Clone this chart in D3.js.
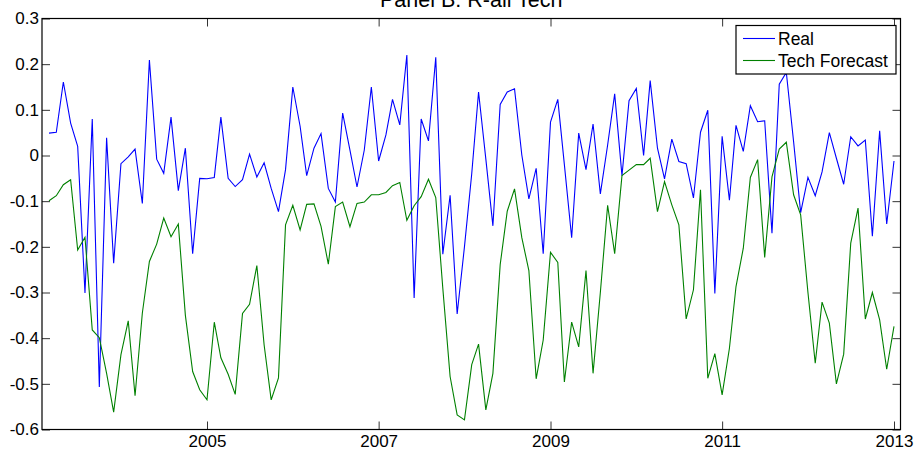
<!DOCTYPE html>
<html>
<head>
<meta charset="utf-8">
<script src="https://cdn.jsdelivr.net/npm/d3@7"></script>
<style>
  html, body { margin: 0; padding: 0; background: #fff; }
  svg { display: block; }
  text { font-family: "Liberation Sans", Arial, sans-serif; fill: #000; }
</style>
</head>
<body>
<svg id="chart" width="915" height="453"></svg>
<script>
// Monthly observations, March 2003 through January 2013
const months = d3.timeMonth.range(new Date(2003, 2, 1), new Date(2013, 1, 1));

const realValues = [
  0.049, 0.051, 0.161, 0.071, 0.020, -0.301, 0.080, -0.507, 0.039, -0.236,
  -0.018, -0.003, 0.014, -0.105, 0.209, -0.008, -0.039, 0.084, -0.077, 0.016,
  -0.215, -0.050, -0.051, -0.048, 0.084, -0.050, -0.068, -0.053, 0.003, -0.047,
  -0.016, -0.072, -0.123, -0.031, 0.150, 0.064, -0.044, 0.016, 0.048, -0.072,
  -0.102, 0.093, 0.012, -0.069, 0.012, 0.150, -0.012, 0.045, 0.123, 0.067,
  0.220, -0.312, 0.080, 0.032, 0.215, -0.216, -0.087, -0.347, -0.200, -0.040,
  0.139, -0.008, -0.154, 0.112, 0.139, 0.146, 0.001, -0.095, -0.028, -0.215,
  0.073, 0.123, -0.020, -0.180, 0.049, -0.031, 0.069, -0.084, 0.023, 0.135,
  -0.044, 0.120, 0.147, 0.000, 0.164, 0.016, -0.051, 0.036, -0.013, -0.018,
  -0.093, 0.051, 0.099, -0.302, 0.042, -0.098, 0.066, 0.009, 0.109, 0.074,
  0.076, -0.170, 0.156, 0.182, 0.030, -0.125, -0.048, -0.088, -0.036, 0.050,
  -0.006, -0.063, 0.041, 0.021, 0.034, -0.177, 0.054, -0.150, -0.012
];

const forecastValues = [
  -0.099, -0.088, -0.064, -0.053, -0.207, -0.179, -0.382, -0.399, -0.477, -0.562,
  -0.436, -0.362, -0.526, -0.345, -0.232, -0.194, -0.137, -0.178, -0.150, -0.350,
  -0.473, -0.513, -0.535, -0.365, -0.443, -0.479, -0.523, -0.346, -0.326, -0.241,
  -0.415, -0.535, -0.487, -0.152, -0.109, -0.163, -0.107, -0.106, -0.155, -0.238,
  -0.112, -0.102, -0.156, -0.105, -0.102, -0.086, -0.086, -0.081, -0.066, -0.059,
  -0.142, -0.110, -0.090, -0.052, -0.092, -0.291, -0.484, -0.568, -0.579, -0.458,
  -0.413, -0.557, -0.477, -0.239, -0.122, -0.073, -0.180, -0.252, -0.489, -0.404,
  -0.212, -0.234, -0.496, -0.365, -0.419, -0.252, -0.477, -0.300, -0.109, -0.215,
  -0.044, -0.032, -0.020, -0.020, -0.006, -0.123, -0.057, -0.108, -0.152, -0.358,
  -0.294, -0.075, -0.488, -0.434, -0.524, -0.422, -0.287, -0.203, -0.048, -0.009,
  -0.223, -0.047, 0.014, 0.029, -0.086, -0.130, -0.300, -0.455, -0.321, -0.367,
  -0.500, -0.435, -0.192, -0.115, -0.358, -0.300, -0.360, -0.468, -0.374
];

const seriesNames = ["Real", "Tech Forecast"];
const seriesColors = ["#0000ff", "#008000"];
const yTickValues = [-0.6, -0.5, -0.4, -0.3, -0.2, -0.1, 0, 0.1, 0.2, 0.3];
const xTickYears = [2005, 2007, 2009, 2011, 2013];
const titleText = "Panel B: R-all Tech";

// Plot box
const plot = { left: 42, right: 900.5, top: 18.5, bottom: 429.5 };

const svg = d3.select("#chart");

// Time axis: calendar years placed so the two-year ticks span the box evenly
const yearRef = d3.scaleTime()
  .domain([new Date(2005, 0, 1), new Date(2013, 0, 1)])
  .range([207, 894]);
const x = d3.scaleTime()
  .domain([yearRef.invert(plot.left), yearRef.invert(plot.right)])
  .range([plot.left, plot.right]);

const y = d3.scaleLinear()
  .domain([-0.6, 0.3])
  .range([plot.bottom, plot.top]);

const xTicks = xTickYears.map(yr => new Date(yr, 0, 1));
// Plain hyphen for negatives
const numLocale = d3.formatLocale({ decimal: ".", thousands: ",", grouping: [3], currency: ["", ""], minus: "-" });
const yFmt = v => (Math.abs(v) < 1e-9 ? "0" : numLocale.format(".1f")(v));
const tickLen = 8;
const fontSize = 17;

// Bottom axis with labels
const gBottom = svg.append("g")
  .attr("transform", `translate(0,${plot.bottom})`)
  .call(d3.axisBottom(x).tickValues(xTicks).tickFormat(d3.timeFormat("%Y"))
    .tickSizeInner(-tickLen).tickSizeOuter(0).tickPadding(5));
// Left axis with labels
const gLeft = svg.append("g")
  .attr("transform", `translate(${plot.left},0)`)
  .call(d3.axisLeft(y).tickValues(yTickValues).tickFormat(yFmt)
    .tickSizeInner(-tickLen).tickSizeOuter(0).tickPadding(3));
// Mirrored ticks on top and right
const gTop = svg.append("g")
  .attr("transform", `translate(0,${plot.top})`)
  .call(d3.axisTop(x).tickValues(xTicks).tickFormat("")
    .tickSizeInner(-tickLen).tickSizeOuter(0));
const gRight = svg.append("g")
  .attr("transform", `translate(${plot.right},0)`)
  .call(d3.axisRight(y).tickValues(yTickValues).tickFormat("")
    .tickSizeInner(-tickLen).tickSizeOuter(0));

[gBottom, gLeft, gTop, gRight].forEach(g => {
  g.select(".domain").remove();
  g.selectAll(".tick line").attr("stroke", "#333").attr("stroke-width", 1);
  g.selectAll(".tick text")
    .attr("font-family", "Liberation Sans, Arial, sans-serif")
    .attr("font-size", fontSize)
    .attr("fill", "#000");
});
gBottom.selectAll(".tick text").attr("dy", "0.71em");

// Series lines
svg.append("clipPath").attr("id", "plot-clip")
  .append("rect")
  .attr("x", plot.left).attr("y", plot.top)
  .attr("width", plot.right - plot.left).attr("height", plot.bottom - plot.top);

const line = d3.line()
  .x((d, i) => x(months[i]))
  .y(d => y(d));

const seriesData = [realValues, forecastValues];
svg.append("g").attr("clip-path", "url(#plot-clip)")
  .selectAll("path")
  .data(seriesData)
  .join("path")
  .attr("d", d => line(d))
  .attr("fill", "none")
  .attr("stroke", (d, i) => seriesColors[i])
  .attr("stroke-width", 1.1)
  .attr("stroke-linejoin", "miter");

// Box around plot area
svg.append("rect")
  .attr("x", plot.left).attr("y", plot.top)
  .attr("width", plot.right - plot.left).attr("height", plot.bottom - plot.top)
  .attr("fill", "none")
  .attr("stroke", "#000")
  .attr("stroke-width", 1.2);

// Title, partly above the top edge of the figure
svg.append("text")
  .attr("x", (plot.left + plot.right) / 2)
  .attr("y", 6.5)
  .attr("text-anchor", "middle")
  .attr("font-size", 21.5)
  .text(titleText);

// Legend
const legend = { x: 736, y: 25.5, w: 160, h: 48.5 };
const lg = svg.append("g");
lg.append("rect")
  .attr("x", legend.x).attr("y", legend.y)
  .attr("width", legend.w).attr("height", legend.h)
  .attr("fill", "#fff").attr("stroke", "#000").attr("stroke-width", 1.2);
const rowY = [38.5, 60.5];
seriesNames.forEach((name, i) => {
  lg.append("line")
    .attr("x1", legend.x + 7).attr("x2", legend.x + 39)
    .attr("y1", rowY[i]).attr("y2", rowY[i])
    .attr("stroke", seriesColors[i]).attr("stroke-width", 1.1);
  lg.append("text")
    .attr("x", legend.x + 42)
    .attr("y", rowY[i] + 6.5)
    .attr("font-size", fontSize + 0.5)
    .text(name);
});
</script>
</body>
</html>
